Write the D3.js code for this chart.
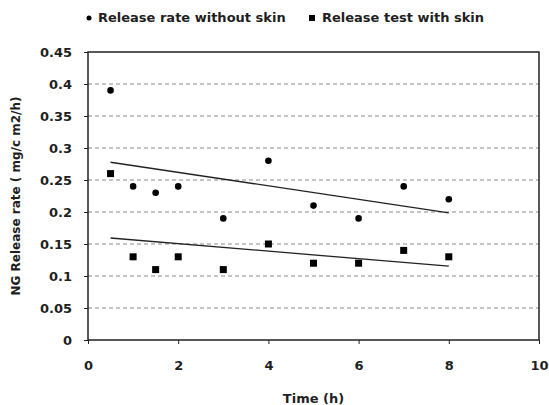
<!DOCTYPE html>
<html>
<head>
<meta charset="utf-8">
<script src="https://cdn.jsdelivr.net/npm/d3@7"></script>
<style>
  body { margin: 0; background: #fff; }
  text { font-family: "DejaVu Sans", Verdana, sans-serif; fill: #1f1f1f; font-weight: bold; }
</style>
</head>
<body>
<div id="chart"></div>
<script>
// data
var times = [0.5, 1, 1.5, 2, 3, 4, 5, 6, 7, 8];
var withoutSkin = [0.39, 0.24, 0.23, 0.24, 0.19, 0.28, 0.21, 0.19, 0.24, 0.22];
var withSkin = [0.26, 0.13, 0.11, 0.13, 0.11, 0.15, 0.12, 0.12, 0.14, 0.13];
var xTicks = [0, 2, 4, 6, 8, 10];
var yTicks = [0, 0.05, 0.1, 0.15, 0.2, 0.25, 0.3, 0.35, 0.4, 0.45];

var margin = { top: 52, right: 10, bottom: 65, left: 88 },
    width = 549 - margin.left - margin.right,
    height = 405 - margin.top - margin.bottom;

var svg = d3.select("#chart")
    .append("svg")
    .attr("width", 549)
    .attr("height", 405)
    .append("g")
    .attr("transform", "translate(" + margin.left + "," + margin.top + ")");

var x = d3.scaleLinear().domain([0, 10]).range([0, width]);
var y = d3.scaleLinear().domain([0, 0.45]).range([height, 0]);

// dashed gridlines
svg.selectAll(".grid")
    .data(yTicks.filter(d => d > 0 && d < 0.45))
    .enter()
    .append("line")
    .attr("x1", 0)
    .attr("x2", width)
    .attr("y1", d => y(d))
    .attr("y2", d => y(d))
    .attr("stroke", "#8a8a8a")
    .attr("stroke-width", 1.2)
    .attr("stroke-dasharray", "4,3");

// axes
var yAxis = svg.append("g")
    .call(d3.axisLeft(y).tickValues(yTicks).tickFormat(d => String(+d.toFixed(2))).tickSize(4).tickPadding(12));
var xAxis = svg.append("g")
    .attr("transform", "translate(0," + height + ")")
    .call(d3.axisBottom(x).tickValues(xTicks).tickSize(4).tickPadding(17));
[xAxis, yAxis].forEach(function(a) {
    a.select(".domain").remove();
    a.selectAll("line").attr("stroke", "#222");
    a.selectAll("text").style("font-size", "13px").attr("fill", "#1f1f1f");
});

// plot border
svg.append("rect")
    .attr("x", 0)
    .attr("y", 0)
    .attr("width", width)
    .attr("height", height)
    .attr("fill", "none")
    .attr("stroke", "#222")
    .attr("stroke-width", 1.5);

// linear trend lines
function trend(xs, ys) {
    var mx = d3.mean(xs), my = d3.mean(ys);
    var sxy = d3.sum(xs, (v, i) => (v - mx) * (ys[i] - my));
    var sxx = d3.sum(xs, v => (v - mx) * (v - mx));
    var b = sxy / sxx, a = my - b * mx;
    var x0 = d3.min(xs), x1 = d3.max(xs);
    return [[x0, a + b * x0], [x1, a + b * x1]];
}
var line = d3.line().x(d => x(d[0])).y(d => y(d[1]));
[withoutSkin, withSkin].forEach(function(s) {
    svg.append("path")
        .attr("d", line(trend(times, s)))
        .attr("fill", "none")
        .attr("stroke", "#222")
        .attr("stroke-width", 1.3);
});

// markers
svg.selectAll(".dot")
    .data(withoutSkin)
    .enter()
    .append("circle")
    .attr("cx", (d, i) => x(times[i]))
    .attr("cy", d => y(d))
    .attr("r", 3.3)
    .attr("fill", "#000");

svg.selectAll(".sq")
    .data(withSkin)
    .enter()
    .append("rect")
    .attr("x", (d, i) => x(times[i]) - 3.5)
    .attr("y", d => y(d) - 3.5)
    .attr("width", 7)
    .attr("height", 7)
    .attr("fill", "#000");

// axis titles
svg.append("text")
    .attr("x", width / 2)
    .attr("y", height + 63)
    .attr("text-anchor", "middle")
    .style("font-size", "13px")
    .text("Time (h)");

svg.append("text")
    .attr("transform", "translate(" + (-72) + "," + (height / 2) + ")rotate(-90)")
    .attr("text-anchor", "middle")
    .attr("dy", "0.35em")
    .style("font-size", "12px")
    .text("NG Release rate ( mg/c m2/h)");

// legend
var legend = d3.select("svg").append("g");
legend.append("circle").attr("cx", 89).attr("cy", 18).attr("r", 2.5).attr("fill", "#000");
legend.append("text").attr("x", 98).attr("y", 22).style("font-size", "13px").text("Release rate without skin");
legend.append("rect").attr("x", 309).attr("y", 15).attr("width", 6).attr("height", 6).attr("fill", "#000");
legend.append("text").attr("x", 322).attr("y", 22).style("font-size", "13px").text("Release test with skin");
</script>
</body>
</html>
